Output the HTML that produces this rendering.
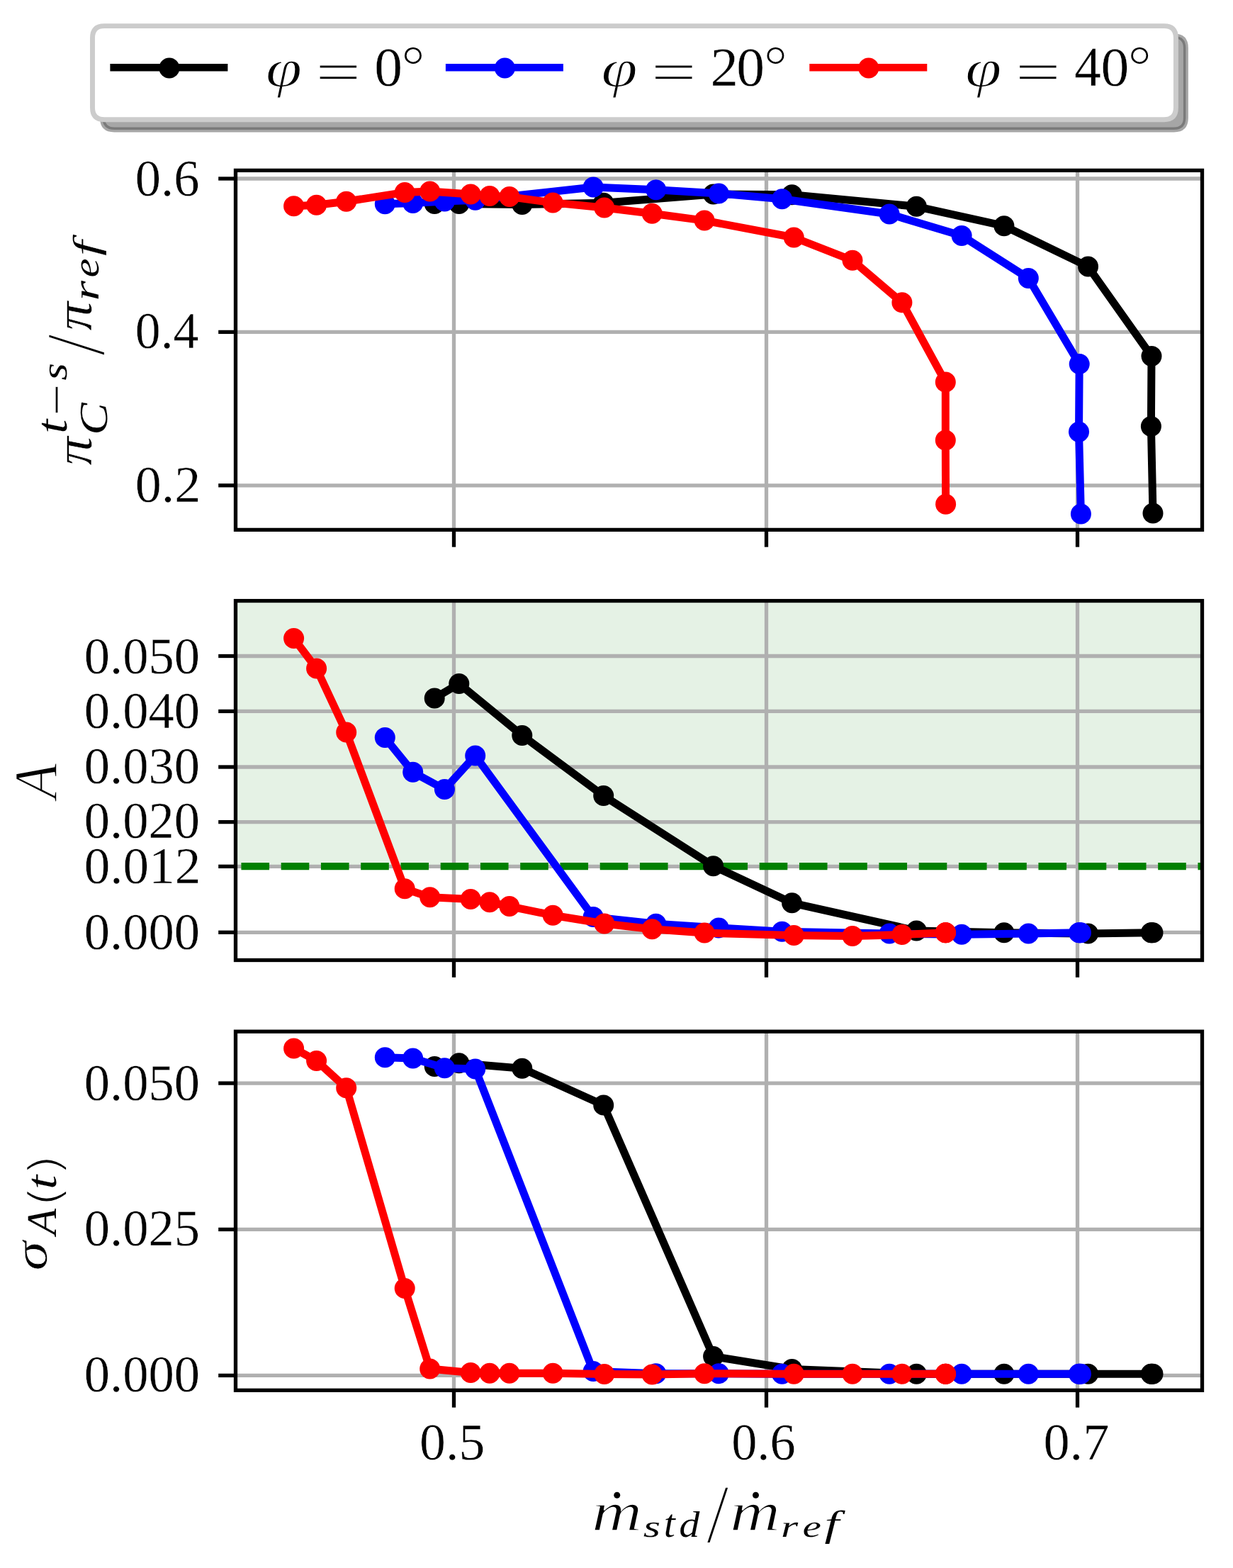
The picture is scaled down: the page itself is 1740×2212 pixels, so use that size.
<!DOCTYPE html>
<html lang="en"><head><meta charset="utf-8"><title>Compressor map</title>
<style>html,body{margin:0;padding:0;background:#fff}svg{display:block}</style>
</head><body>
<svg width="1740" height="2212" viewBox="0 0 1740 2212" font-family="'Liberation Serif', 'DejaVu Serif', serif" style="font-kerning:none" text-rendering="geometricPrecision">
<rect width="1740" height="2212" fill="#fff"/>
<g id="legend">
<path d="M161.2,50.9L1656.7,50.9Q1673.4,50.9 1673.4,67.6L1673.4,166.3Q1673.4,183.0 1656.7,183.0L161.2,183.0Q144.5,183.0 144.5,166.3L144.5,67.6Q144.5,50.9 161.2,50.9Z" fill="#4d4d4d" fill-opacity="0.5" stroke="#4d4d4d" stroke-opacity="0.5" stroke-width="6.94"/>
<path d="M147.2,36.6L1642.7,36.6Q1659.4,36.6 1659.4,53.3L1659.4,152.0Q1659.4,168.7 1642.7,168.7L147.2,168.7Q130.5,168.7 130.5,152.0L130.5,53.3Q130.5,36.6 147.2,36.6Z" fill="#fff" stroke="#cccccc" stroke-width="6.94"/>
<line x1="155.4" x2="321.4" y1="95.25" y2="95.25" stroke="#000000" stroke-width="10.4"/>
<circle cx="238.9" cy="95.9" r="14.5" fill="#000000"/>
<text><tspan x="374.95" y="121.90" font-size="76.11" textLength="51.07" lengthAdjust="spacingAndGlyphs" font-style="italic" stroke="#fff" stroke-width="1.20">φ</tspan><tspan x="445.34" y="127.91" font-size="78.80" textLength="64.11" lengthAdjust="spacingAndGlyphs" stroke="#fff" stroke-width="1.00">=</tspan><tspan x="528.27" y="121.34" font-size="77.65" textLength="39.76" lengthAdjust="spacingAndGlyphs" stroke="#fff" stroke-width="0.40">0</tspan><tspan x="566.29" y="120.45" font-size="81.13" textLength="33.50" lengthAdjust="spacingAndGlyphs" stroke="#fff" stroke-width="1.40">°</tspan></text>
<line x1="628.9" x2="794.9" y1="95.25" y2="95.25" stroke="#0000ff" stroke-width="10.4"/>
<circle cx="712.4" cy="95.9" r="14.5" fill="#0000ff"/>
<text><tspan x="848.45" y="121.90" font-size="76.11" textLength="51.07" lengthAdjust="spacingAndGlyphs" font-style="italic" stroke="#fff" stroke-width="1.20">φ</tspan><tspan x="918.84" y="127.91" font-size="78.80" textLength="64.11" lengthAdjust="spacingAndGlyphs" stroke="#fff" stroke-width="1.00">=</tspan><tspan x="1002.44" y="121.30" font-size="77.93" textLength="39.41" lengthAdjust="spacingAndGlyphs" stroke="#fff" stroke-width="0.40">2</tspan><tspan x="1039.36" y="121.34" font-size="77.65" textLength="39.87" lengthAdjust="spacingAndGlyphs" stroke="#fff" stroke-width="0.40">0</tspan><tspan x="1077.69" y="120.45" font-size="81.13" textLength="33.50" lengthAdjust="spacingAndGlyphs" stroke="#fff" stroke-width="1.40">°</tspan></text>
<line x1="1142.3" x2="1308.3" y1="95.25" y2="95.25" stroke="#ff0000" stroke-width="10.4"/>
<circle cx="1225.8" cy="95.9" r="14.5" fill="#ff0000"/>
<text><tspan x="1362.35" y="121.90" font-size="76.11" textLength="51.07" lengthAdjust="spacingAndGlyphs" font-style="italic" stroke="#fff" stroke-width="1.20">φ</tspan><tspan x="1432.74" y="127.91" font-size="78.80" textLength="64.11" lengthAdjust="spacingAndGlyphs" stroke="#fff" stroke-width="1.00">=</tspan><tspan x="1516.13" y="121.30" font-size="79.76" textLength="37.65" lengthAdjust="spacingAndGlyphs" stroke="#fff" stroke-width="0.40">4</tspan><tspan x="1553.56" y="121.34" font-size="77.65" textLength="39.87" lengthAdjust="spacingAndGlyphs" stroke="#fff" stroke-width="0.40">0</tspan><tspan x="1591.49" y="120.45" font-size="81.13" textLength="33.50" lengthAdjust="spacingAndGlyphs" stroke="#fff" stroke-width="1.40">°</tspan></text>
</g>
<g id="ax1">
<clipPath id="c0"><rect x="332.5" y="240.4" width="1364.0" height="507.0"/></clipPath>
<g clip-path="url(#c0)">
<line x1="640.5" x2="640.5" y1="240.4" y2="747.4" stroke="#b0b0b0" stroke-width="5.3"/>
<line x1="1081.5" x2="1081.5" y1="240.4" y2="747.4" stroke="#b0b0b0" stroke-width="5.3"/>
<line x1="1520.5" x2="1520.5" y1="240.4" y2="747.4" stroke="#b0b0b0" stroke-width="5.3"/>
<line x1="332.5" x2="1696.5" y1="252.0" y2="252.0" stroke="#b0b0b0" stroke-width="5.3"/>
<line x1="332.5" x2="1696.5" y1="468.4" y2="468.4" stroke="#b0b0b0" stroke-width="5.3"/>
<line x1="332.5" x2="1696.5" y1="684.8" y2="684.8" stroke="#b0b0b0" stroke-width="5.3"/>
<polyline points="613.2,287.6 647.8,287.5 736.8,288.6 851.7,286.3 1006.6,274.0 1117.6,274.8 1293.3,291.3 1416.9,318.7 1535.5,376.1 1625.0,502.5 1624.4,601.4 1627.0,724.1" fill="none" stroke="#000000" stroke-width="11.0" stroke-linejoin="round" stroke-linecap="butt"/>
<g fill="#000000"><circle cx="613.2" cy="287.6" r="14.5"/><circle cx="647.8" cy="287.5" r="14.5"/><circle cx="736.8" cy="288.6" r="14.5"/><circle cx="851.7" cy="286.3" r="14.5"/><circle cx="1006.6" cy="274.0" r="14.5"/><circle cx="1117.6" cy="274.8" r="14.5"/><circle cx="1293.3" cy="291.3" r="14.5"/><circle cx="1416.9" cy="318.7" r="14.5"/><circle cx="1535.5" cy="376.1" r="14.5"/><circle cx="1625.0" cy="502.5" r="14.5"/><circle cx="1624.4" cy="601.4" r="14.5"/><circle cx="1627.0" cy="724.1" r="14.5"/></g>
<polyline points="543.3,287.7 582.7,286.5 627.4,284.0 670.7,282.2 837.2,264.0 925.7,267.8 1014.3,272.9 1103.6,280.7 1255.1,302.0 1357.1,332.5 1451.3,392.5 1523.2,513.6 1522.5,609.3 1525.4,724.9" fill="none" stroke="#0000ff" stroke-width="11.0" stroke-linejoin="round" stroke-linecap="butt"/>
<g fill="#0000ff"><circle cx="543.3" cy="287.7" r="14.5"/><circle cx="582.7" cy="286.5" r="14.5"/><circle cx="627.4" cy="284.0" r="14.5"/><circle cx="670.7" cy="282.2" r="14.5"/><circle cx="837.2" cy="264.0" r="14.5"/><circle cx="925.7" cy="267.8" r="14.5"/><circle cx="1014.3" cy="272.9" r="14.5"/><circle cx="1103.6" cy="280.7" r="14.5"/><circle cx="1255.1" cy="302.0" r="14.5"/><circle cx="1357.1" cy="332.5" r="14.5"/><circle cx="1451.3" cy="392.5" r="14.5"/><circle cx="1523.2" cy="513.6" r="14.5"/><circle cx="1522.5" cy="609.3" r="14.5"/><circle cx="1525.4" cy="724.9" r="14.5"/></g>
<polyline points="414.6,290.7 446.6,289.2 488.7,284.2 571.2,271.4 606.7,270.1 664.2,274.0 691.0,276.5 718.9,277.6 780.2,285.9 852.8,293.0 920.2,301.3 994.1,311.1 1120.3,335.0 1203.0,367.3 1272.9,426.7 1334.3,539.1 1334.3,621.0 1334.6,711.2" fill="none" stroke="#ff0000" stroke-width="11.0" stroke-linejoin="round" stroke-linecap="butt"/>
<g fill="#ff0000"><circle cx="414.6" cy="290.7" r="14.5"/><circle cx="446.6" cy="289.2" r="14.5"/><circle cx="488.7" cy="284.2" r="14.5"/><circle cx="571.2" cy="271.4" r="14.5"/><circle cx="606.7" cy="270.1" r="14.5"/><circle cx="664.2" cy="274.0" r="14.5"/><circle cx="691.0" cy="276.5" r="14.5"/><circle cx="718.9" cy="277.6" r="14.5"/><circle cx="780.2" cy="285.9" r="14.5"/><circle cx="852.8" cy="293.0" r="14.5"/><circle cx="920.2" cy="301.3" r="14.5"/><circle cx="994.1" cy="311.1" r="14.5"/><circle cx="1120.3" cy="335.0" r="14.5"/><circle cx="1203.0" cy="367.3" r="14.5"/><circle cx="1272.9" cy="426.7" r="14.5"/><circle cx="1334.3" cy="539.1" r="14.5"/><circle cx="1334.3" cy="621.0" r="14.5"/><circle cx="1334.6" cy="711.2" r="14.5"/></g>
</g>
<line x1="640.5" x2="640.5" y1="747.4" y2="771.7" stroke="#000" stroke-width="5.3"/>
<line x1="1081.5" x2="1081.5" y1="747.4" y2="771.7" stroke="#000" stroke-width="5.3"/>
<line x1="1520.5" x2="1520.5" y1="747.4" y2="771.7" stroke="#000" stroke-width="5.3"/>
<line x1="308.2" x2="332.5" y1="252.0" y2="252.0" stroke="#000" stroke-width="5.3"/>
<line x1="308.2" x2="332.5" y1="468.4" y2="468.4" stroke="#000" stroke-width="5.3"/>
<line x1="308.2" x2="332.5" y1="684.8" y2="684.8" stroke="#000" stroke-width="5.3"/>
<rect x="332.5" y="240.4" width="1364.0" height="507.0" fill="none" stroke="#000" stroke-width="5.3" stroke-linejoin="miter"/>
<text><tspan x="190.84" y="275.67" font-size="72.73" textLength="90.62" lengthAdjust="spacingAndGlyphs" stroke="#fff" stroke-width="0.40">0.6</tspan></text>
<text><tspan x="190.87" y="490.77" font-size="72.88" textLength="89.55" lengthAdjust="spacingAndGlyphs" stroke="#fff" stroke-width="0.40">0.4</tspan></text>
<text><tspan x="190.78" y="707.57" font-size="72.88" textLength="92.61" lengthAdjust="spacingAndGlyphs" stroke="#fff" stroke-width="0.40">0.2</tspan></text>
</g>
<g id="ax2">
<clipPath id="c1"><rect x="332.5" y="847.6" width="1364.0" height="506.9"/></clipPath>
<g clip-path="url(#c1)">
<rect x="332.5" y="847.6" width="1364.0" height="374.5" fill="#e5f2e5"/>
<line x1="640.5" x2="640.5" y1="847.6" y2="1354.5" stroke="#b0b0b0" stroke-width="5.3"/>
<line x1="1081.5" x2="1081.5" y1="847.6" y2="1354.5" stroke="#b0b0b0" stroke-width="5.3"/>
<line x1="1520.5" x2="1520.5" y1="847.6" y2="1354.5" stroke="#b0b0b0" stroke-width="5.3"/>
<line x1="332.5" x2="1696.5" y1="925.5" y2="925.5" stroke="#b0b0b0" stroke-width="5.3"/>
<line x1="332.5" x2="1696.5" y1="1003.4" y2="1003.4" stroke="#b0b0b0" stroke-width="5.3"/>
<line x1="332.5" x2="1696.5" y1="1082.0" y2="1082.0" stroke="#b0b0b0" stroke-width="5.3"/>
<line x1="332.5" x2="1696.5" y1="1159.6" y2="1159.6" stroke="#b0b0b0" stroke-width="5.3"/>
<line x1="332.5" x2="1696.5" y1="1222.3" y2="1222.3" stroke="#b0b0b0" stroke-width="5.3"/>
<line x1="332.5" x2="1696.5" y1="1315.3" y2="1315.3" stroke="#b0b0b0" stroke-width="5.3"/>
<line x1="284.2" x2="1756.5" y1="1222.1" y2="1222.1" stroke="#008000" stroke-width="10.4" stroke-dasharray="39.6 16.65"/>
<polyline points="613.2,984.9 647.8,964.5 736.8,1037.4 851.7,1122.6 1006.6,1221.7 1117.6,1273.8 1293.3,1313.0 1416.9,1315.8 1535.5,1317.0 1625.0,1315.8 1624.4,1315.8 1627.0,1315.8" fill="none" stroke="#000000" stroke-width="11.0" stroke-linejoin="round" stroke-linecap="butt"/>
<g fill="#000000"><circle cx="613.2" cy="984.9" r="14.5"/><circle cx="647.8" cy="964.5" r="14.5"/><circle cx="736.8" cy="1037.4" r="14.5"/><circle cx="851.7" cy="1122.6" r="14.5"/><circle cx="1006.6" cy="1221.7" r="14.5"/><circle cx="1117.6" cy="1273.8" r="14.5"/><circle cx="1293.3" cy="1313.0" r="14.5"/><circle cx="1416.9" cy="1315.8" r="14.5"/><circle cx="1535.5" cy="1317.0" r="14.5"/><circle cx="1625.0" cy="1315.8" r="14.5"/><circle cx="1624.4" cy="1315.8" r="14.5"/><circle cx="1627.0" cy="1315.8" r="14.5"/></g>
<polyline points="543.3,1040.6 582.7,1089.3 627.4,1113.5 670.7,1065.9 837.2,1293.6 925.7,1303.2 1014.3,1309.0 1103.6,1314.2 1255.1,1317.0 1357.1,1318.2 1451.3,1317.0 1523.2,1315.8 1522.5,1315.8 1525.4,1315.8" fill="none" stroke="#0000ff" stroke-width="11.0" stroke-linejoin="round" stroke-linecap="butt"/>
<g fill="#0000ff"><circle cx="543.3" cy="1040.6" r="14.5"/><circle cx="582.7" cy="1089.3" r="14.5"/><circle cx="627.4" cy="1113.5" r="14.5"/><circle cx="670.7" cy="1065.9" r="14.5"/><circle cx="837.2" cy="1293.6" r="14.5"/><circle cx="925.7" cy="1303.2" r="14.5"/><circle cx="1014.3" cy="1309.0" r="14.5"/><circle cx="1103.6" cy="1314.2" r="14.5"/><circle cx="1255.1" cy="1317.0" r="14.5"/><circle cx="1357.1" cy="1318.2" r="14.5"/><circle cx="1451.3" cy="1317.0" r="14.5"/><circle cx="1523.2" cy="1315.8" r="14.5"/><circle cx="1522.5" cy="1315.8" r="14.5"/><circle cx="1525.4" cy="1315.8" r="14.5"/></g>
<polyline points="414.6,900.6 446.6,943.0 488.7,1033.1 571.2,1253.8 606.7,1265.7 664.2,1268.5 691.0,1272.7 718.9,1278.6 780.2,1291.2 852.8,1303.0 920.2,1310.7 994.1,1316.1 1120.3,1319.4 1203.0,1320.5 1272.9,1318.6 1334.3,1315.8 1334.3,1315.8 1334.6,1315.8" fill="none" stroke="#ff0000" stroke-width="11.0" stroke-linejoin="round" stroke-linecap="butt"/>
<g fill="#ff0000"><circle cx="414.6" cy="900.6" r="14.5"/><circle cx="446.6" cy="943.0" r="14.5"/><circle cx="488.7" cy="1033.1" r="14.5"/><circle cx="571.2" cy="1253.8" r="14.5"/><circle cx="606.7" cy="1265.7" r="14.5"/><circle cx="664.2" cy="1268.5" r="14.5"/><circle cx="691.0" cy="1272.7" r="14.5"/><circle cx="718.9" cy="1278.6" r="14.5"/><circle cx="780.2" cy="1291.2" r="14.5"/><circle cx="852.8" cy="1303.0" r="14.5"/><circle cx="920.2" cy="1310.7" r="14.5"/><circle cx="994.1" cy="1316.1" r="14.5"/><circle cx="1120.3" cy="1319.4" r="14.5"/><circle cx="1203.0" cy="1320.5" r="14.5"/><circle cx="1272.9" cy="1318.6" r="14.5"/><circle cx="1334.3" cy="1315.8" r="14.5"/><circle cx="1334.3" cy="1315.8" r="14.5"/><circle cx="1334.6" cy="1315.8" r="14.5"/></g>
</g>
<line x1="640.5" x2="640.5" y1="1354.5" y2="1378.8" stroke="#000" stroke-width="5.3"/>
<line x1="1081.5" x2="1081.5" y1="1354.5" y2="1378.8" stroke="#000" stroke-width="5.3"/>
<line x1="1520.5" x2="1520.5" y1="1354.5" y2="1378.8" stroke="#000" stroke-width="5.3"/>
<line x1="308.2" x2="332.5" y1="925.5" y2="925.5" stroke="#000" stroke-width="5.3"/>
<line x1="308.2" x2="332.5" y1="1003.4" y2="1003.4" stroke="#000" stroke-width="5.3"/>
<line x1="308.2" x2="332.5" y1="1082.0" y2="1082.0" stroke="#000" stroke-width="5.3"/>
<line x1="308.2" x2="332.5" y1="1159.6" y2="1159.6" stroke="#000" stroke-width="5.3"/>
<line x1="308.2" x2="332.5" y1="1222.3" y2="1222.3" stroke="#000" stroke-width="5.3"/>
<line x1="308.2" x2="332.5" y1="1315.3" y2="1315.3" stroke="#000" stroke-width="5.3"/>
<rect x="332.5" y="847.6" width="1364.0" height="506.9" fill="none" stroke="#000" stroke-width="5.3" stroke-linejoin="miter"/>
<text><tspan x="118.74" y="949.77" font-size="72.73" textLength="163.33" lengthAdjust="spacingAndGlyphs" stroke="#fff" stroke-width="0.40">0.050</tspan></text>
<text><tspan x="118.74" y="1027.17" font-size="72.88" textLength="163.33" lengthAdjust="spacingAndGlyphs" stroke="#fff" stroke-width="0.40">0.040</tspan></text>
<text><tspan x="118.74" y="1105.27" font-size="72.88" textLength="163.33" lengthAdjust="spacingAndGlyphs" stroke="#fff" stroke-width="0.40">0.030</tspan></text>
<text><tspan x="118.74" y="1182.47" font-size="72.73" textLength="163.33" lengthAdjust="spacingAndGlyphs" stroke="#fff" stroke-width="0.40">0.020</tspan></text>
<text><tspan x="118.71" y="1245.97" font-size="72.88" textLength="164.62" lengthAdjust="spacingAndGlyphs" stroke="#fff" stroke-width="0.40">0.012</tspan></text>
<text><tspan x="118.74" y="1338.97" font-size="72.88" textLength="163.33" lengthAdjust="spacingAndGlyphs" stroke="#fff" stroke-width="0.40">0.000</tspan></text>
</g>
<g id="ax3">
<clipPath id="c2"><rect x="332.5" y="1455.2" width="1364.0" height="506.0999999999999"/></clipPath>
<g clip-path="url(#c2)">
<line x1="640.5" x2="640.5" y1="1455.2" y2="1961.3" stroke="#b0b0b0" stroke-width="5.3"/>
<line x1="1081.5" x2="1081.5" y1="1455.2" y2="1961.3" stroke="#b0b0b0" stroke-width="5.3"/>
<line x1="1520.5" x2="1520.5" y1="1455.2" y2="1961.3" stroke="#b0b0b0" stroke-width="5.3"/>
<line x1="332.5" x2="1696.5" y1="1528.1" y2="1528.1" stroke="#b0b0b0" stroke-width="5.3"/>
<line x1="332.5" x2="1696.5" y1="1734.4" y2="1734.4" stroke="#b0b0b0" stroke-width="5.3"/>
<line x1="332.5" x2="1696.5" y1="1940.4" y2="1940.4" stroke="#b0b0b0" stroke-width="5.3"/>
<polyline points="613.2,1504.4 647.8,1499.8 736.8,1507.2 851.7,1559.0 1006.6,1913.6 1117.6,1931.5 1293.3,1938.2 1416.9,1938.2 1535.5,1938.2 1625.0,1938.2 1624.4,1938.2 1627.0,1938.2" fill="none" stroke="#000000" stroke-width="11.0" stroke-linejoin="round" stroke-linecap="butt"/>
<g fill="#000000"><circle cx="613.2" cy="1504.4" r="14.5"/><circle cx="647.8" cy="1499.8" r="14.5"/><circle cx="736.8" cy="1507.2" r="14.5"/><circle cx="851.7" cy="1559.0" r="14.5"/><circle cx="1006.6" cy="1913.6" r="14.5"/><circle cx="1117.6" cy="1931.5" r="14.5"/><circle cx="1293.3" cy="1938.2" r="14.5"/><circle cx="1416.9" cy="1938.2" r="14.5"/><circle cx="1535.5" cy="1938.2" r="14.5"/><circle cx="1625.0" cy="1938.2" r="14.5"/><circle cx="1624.4" cy="1938.2" r="14.5"/><circle cx="1627.0" cy="1938.2" r="14.5"/></g>
<polyline points="543.3,1491.8 582.7,1492.9 627.4,1506.8 670.7,1508.0 837.2,1934.4 925.7,1937.7 1014.3,1937.7 1103.6,1938.2 1255.1,1938.2 1357.1,1938.2 1451.3,1938.2 1523.2,1938.2 1522.5,1938.2 1525.4,1938.2" fill="none" stroke="#0000ff" stroke-width="11.0" stroke-linejoin="round" stroke-linecap="butt"/>
<g fill="#0000ff"><circle cx="543.3" cy="1491.8" r="14.5"/><circle cx="582.7" cy="1492.9" r="14.5"/><circle cx="627.4" cy="1506.8" r="14.5"/><circle cx="670.7" cy="1508.0" r="14.5"/><circle cx="837.2" cy="1934.4" r="14.5"/><circle cx="925.7" cy="1937.7" r="14.5"/><circle cx="1014.3" cy="1937.7" r="14.5"/><circle cx="1103.6" cy="1938.2" r="14.5"/><circle cx="1255.1" cy="1938.2" r="14.5"/><circle cx="1357.1" cy="1938.2" r="14.5"/><circle cx="1451.3" cy="1938.2" r="14.5"/><circle cx="1523.2" cy="1938.2" r="14.5"/><circle cx="1522.5" cy="1938.2" r="14.5"/><circle cx="1525.4" cy="1938.2" r="14.5"/></g>
<polyline points="414.6,1478.9 446.6,1496.4 488.7,1534.8 571.2,1817.6 606.7,1931.1 664.2,1936.5 691.0,1937.2 718.9,1937.2 780.2,1937.2 852.8,1938.6 920.2,1938.9 994.1,1937.7 1120.3,1938.2 1203.0,1938.2 1272.9,1938.2 1334.3,1938.2 1334.3,1938.2 1334.6,1938.2" fill="none" stroke="#ff0000" stroke-width="11.0" stroke-linejoin="round" stroke-linecap="butt"/>
<g fill="#ff0000"><circle cx="414.6" cy="1478.9" r="14.5"/><circle cx="446.6" cy="1496.4" r="14.5"/><circle cx="488.7" cy="1534.8" r="14.5"/><circle cx="571.2" cy="1817.6" r="14.5"/><circle cx="606.7" cy="1931.1" r="14.5"/><circle cx="664.2" cy="1936.5" r="14.5"/><circle cx="691.0" cy="1937.2" r="14.5"/><circle cx="718.9" cy="1937.2" r="14.5"/><circle cx="780.2" cy="1937.2" r="14.5"/><circle cx="852.8" cy="1938.6" r="14.5"/><circle cx="920.2" cy="1938.9" r="14.5"/><circle cx="994.1" cy="1937.7" r="14.5"/><circle cx="1120.3" cy="1938.2" r="14.5"/><circle cx="1203.0" cy="1938.2" r="14.5"/><circle cx="1272.9" cy="1938.2" r="14.5"/><circle cx="1334.3" cy="1938.2" r="14.5"/><circle cx="1334.3" cy="1938.2" r="14.5"/><circle cx="1334.6" cy="1938.2" r="14.5"/></g>
</g>
<line x1="640.5" x2="640.5" y1="1961.3" y2="1985.6" stroke="#000" stroke-width="5.3"/>
<line x1="1081.5" x2="1081.5" y1="1961.3" y2="1985.6" stroke="#000" stroke-width="5.3"/>
<line x1="1520.5" x2="1520.5" y1="1961.3" y2="1985.6" stroke="#000" stroke-width="5.3"/>
<line x1="308.2" x2="332.5" y1="1528.1" y2="1528.1" stroke="#000" stroke-width="5.3"/>
<line x1="308.2" x2="332.5" y1="1734.4" y2="1734.4" stroke="#000" stroke-width="5.3"/>
<line x1="308.2" x2="332.5" y1="1940.4" y2="1940.4" stroke="#000" stroke-width="5.3"/>
<rect x="332.5" y="1455.2" width="1364.0" height="506.0999999999999" fill="none" stroke="#000" stroke-width="5.3" stroke-linejoin="miter"/>
<text><tspan x="118.74" y="1551.87" font-size="72.88" textLength="163.33" lengthAdjust="spacingAndGlyphs" stroke="#fff" stroke-width="0.40">0.050</tspan></text>
<text><tspan x="118.73" y="1757.27" font-size="72.88" textLength="163.40" lengthAdjust="spacingAndGlyphs" stroke="#fff" stroke-width="0.40">0.025</tspan></text>
<text><tspan x="118.74" y="1962.77" font-size="72.73" textLength="163.33" lengthAdjust="spacingAndGlyphs" stroke="#fff" stroke-width="0.40">0.000</tspan></text>
</g>
<g id="xticks">
<text><tspan x="592.09" y="2058.76" font-size="73.17" textLength="92.19" lengthAdjust="spacingAndGlyphs" stroke="#fff" stroke-width="0.40">0.5</tspan></text>
<text><tspan x="1032.14" y="2058.76" font-size="73.17" textLength="90.51" lengthAdjust="spacingAndGlyphs" stroke="#fff" stroke-width="0.40">0.6</tspan></text>
<text><tspan x="1472.47" y="2058.76" font-size="73.17" textLength="92.87" lengthAdjust="spacingAndGlyphs" stroke="#fff" stroke-width="0.40">0.7</tspan></text>
</g>
<g id="ylabels">
<text transform="rotate(-90)"><tspan x="-656.54" y="128.66" font-size="75.52" textLength="40.58" lengthAdjust="spacingAndGlyphs" font-style="italic" stroke="#fff" stroke-width="0.60">π</tspan><tspan x="-611.83" y="94.14" font-size="62.33" textLength="20.13" lengthAdjust="spacingAndGlyphs" font-style="italic" stroke="#fff" stroke-width="0.10">t</tspan><tspan x="-586.22" y="104.40" font-size="72.28" textLength="44.36" lengthAdjust="spacingAndGlyphs" stroke="#fff" stroke-width="0.60">−</tspan><tspan x="-536.62" y="94.25" font-size="51.56" textLength="24.58" lengthAdjust="spacingAndGlyphs" font-style="italic" stroke="#fff" stroke-width="0.10">s</tspan><tspan x="-613.65" y="150.63" font-size="56.30" textLength="45.57" lengthAdjust="spacingAndGlyphs" font-style="italic" stroke="#fff" stroke-width="0.10">C</tspan><tspan x="-502.00" y="146.63" font-size="119.59" textLength="31.00" lengthAdjust="spacingAndGlyphs" stroke="#fff" stroke-width="2.40">/</tspan><tspan x="-466.64" y="128.66" font-size="75.52" textLength="40.96" lengthAdjust="spacingAndGlyphs" font-style="italic" stroke="#fff" stroke-width="0.60">π</tspan><tspan x="-424.62" y="139.15" font-size="52.21" textLength="28.56" lengthAdjust="spacingAndGlyphs" font-style="italic" stroke="#fff" stroke-width="0.10">r</tspan><tspan x="-391.62" y="139.04" font-size="51.98" textLength="27.04" lengthAdjust="spacingAndGlyphs" font-style="italic" stroke="#fff" stroke-width="0.10">e</tspan><tspan x="-361.12" y="138.55" font-size="51.69" textLength="21.46" lengthAdjust="spacingAndGlyphs" font-style="italic" stroke="#fff" stroke-width="0.10">f</tspan></text>
<text transform="rotate(-90)"><tspan x="-1126.90" y="80.20" font-size="87.10" textLength="50.22" lengthAdjust="spacingAndGlyphs" font-style="italic" stroke="#fff" stroke-width="1.60">A</tspan></text>
<text transform="rotate(-90)"><tspan x="-1792.41" y="66.44" font-size="67.38" textLength="41.54" lengthAdjust="spacingAndGlyphs" font-style="italic" stroke="#fff" stroke-width="0.60">σ</tspan><tspan x="-1741.92" y="79.25" font-size="59.68" textLength="37.16" lengthAdjust="spacingAndGlyphs" font-style="italic" stroke="#fff" stroke-width="0.10">A</tspan><tspan x="-1703.03" y="85.21" font-size="61.35" textLength="30.07" lengthAdjust="spacingAndGlyphs" font-family="'DejaVu Sans Light', 'DejaVu Sans', sans-serif" font-weight="200">(</tspan><tspan x="-1677.99" y="78.65" font-size="60.93" textLength="20.46" lengthAdjust="spacingAndGlyphs" font-style="italic" stroke="#fff" stroke-width="0.10">t</tspan><tspan x="-1658.98" y="85.21" font-size="61.35" textLength="30.95" lengthAdjust="spacingAndGlyphs" font-family="'DejaVu Sans Light', 'DejaVu Sans', sans-serif" font-weight="200">)</tspan></text>
</g>
<g id="xlabel">
<text><tspan x="835.14" y="2158.50" font-size="78.52" textLength="71.20" lengthAdjust="spacingAndGlyphs" font-style="italic" stroke="#fff" stroke-width="1.40">m</tspan><tspan x="856.55" y="2161.04" font-size="84.94" textLength="28.29" lengthAdjust="spacingAndGlyphs">˙</tspan><tspan x="907.69" y="2168.13" font-size="43.04" textLength="24.36" lengthAdjust="spacingAndGlyphs" font-style="italic" stroke="#fff" stroke-width="0.10">s</tspan><tspan x="936.81" y="2168.00" font-size="56.57" textLength="16.09" lengthAdjust="spacingAndGlyphs" font-style="italic" stroke="#fff" stroke-width="0.10">t</tspan><tspan x="958.19" y="2168.02" font-size="51.98" textLength="29.12" lengthAdjust="spacingAndGlyphs" font-style="italic" stroke="#fff" stroke-width="0.10">d</tspan><tspan x="996.80" y="2175.64" font-size="119.14" textLength="32.10" lengthAdjust="spacingAndGlyphs" stroke="#fff" stroke-width="2.40">/</tspan><tspan x="1030.04" y="2158.50" font-size="78.52" textLength="71.09" lengthAdjust="spacingAndGlyphs" font-style="italic" stroke="#fff" stroke-width="1.40">m</tspan><tspan x="1052.35" y="2161.04" font-size="84.94" textLength="28.29" lengthAdjust="spacingAndGlyphs">˙</tspan><tspan x="1101.93" y="2168.05" font-size="42.87" textLength="24.24" lengthAdjust="spacingAndGlyphs" font-style="italic" stroke="#fff" stroke-width="0.10">r</tspan><tspan x="1132.62" y="2168.13" font-size="43.04" textLength="26.47" lengthAdjust="spacingAndGlyphs" font-style="italic" stroke="#fff" stroke-width="0.10">e</tspan><tspan x="1163.41" y="2167.42" font-size="51.80" textLength="20.81" lengthAdjust="spacingAndGlyphs" font-style="italic" stroke="#fff" stroke-width="0.10">f</tspan></text>
</g>
</svg>
</body></html>
